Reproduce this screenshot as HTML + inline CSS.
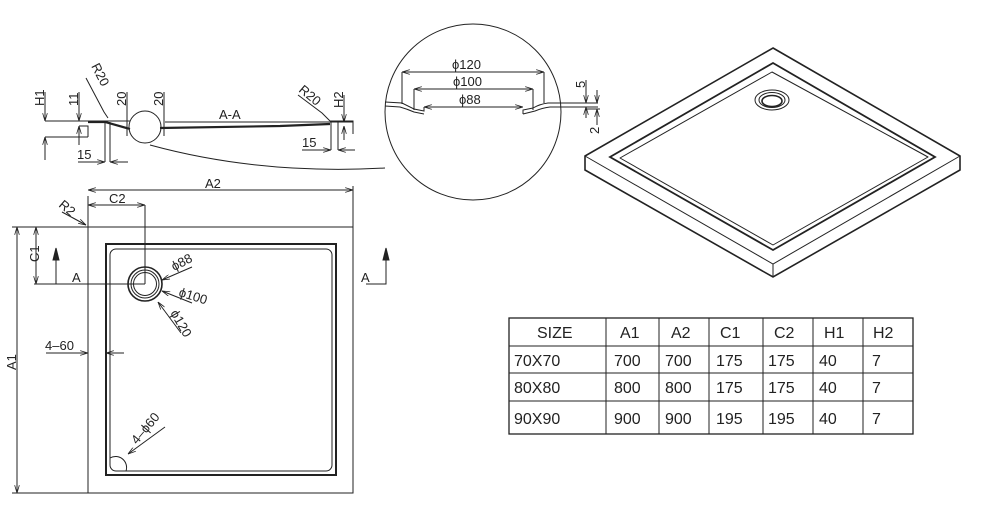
<!DOCTYPE html>
<html><head><meta charset="utf-8"><style>
html,body{margin:0;padding:0;background:#fff;}
svg{display:block;}
text{font-family:"Liberation Sans",sans-serif;fill:#222;}
</style></head><body>
<svg width="982" height="512" viewBox="0 0 982 512" xmlns="http://www.w3.org/2000/svg">
<defs>
<marker id="ar" viewBox="0 0 10 6" refX="10" refY="3" markerWidth="8" markerHeight="5" orient="auto-start-reverse"><path d="M0,0 L10,3 L0,6" fill="none" stroke="#222" stroke-width="1"/></marker>
</defs>
<g stroke="#222" fill="none" stroke-width="1">
<line x1="45" y1="121" x2="130" y2="121"/>
<line x1="45" y1="137" x2="88" y2="137"/>
<line x1="45" y1="92" x2="45" y2="121" marker-end="url(#ar)"/>
<line x1="45" y1="160" x2="45" y2="137" marker-end="url(#ar)"/>
<line x1="79" y1="92" x2="79" y2="121" marker-end="url(#ar)"/>
<line x1="79" y1="145" x2="79" y2="126" marker-end="url(#ar)"/>
<path d="M79,126 H88 V137" />
<path d="M88,122 H105 L130,129" stroke-width="2.2"/>
<line x1="105" y1="122" x2="105" y2="162"/>
<line x1="110" y1="122" x2="110" y2="162"/>
<line x1="78" y1="162" x2="105" y2="162" marker-end="url(#ar)"/>
<line x1="128" y1="162" x2="110" y2="162" marker-end="url(#ar)"/>
<path d="M86,78 L104,112 L108,118" />
<line x1="127" y1="92" x2="127" y2="136"/>
<line x1="164" y1="92" x2="164" y2="136"/>
<circle cx="145" cy="127" r="16"/>
<line x1="165" y1="122" x2="353" y2="122"/>
<path d="M160,128 L280,126 L330,124" stroke-width="2.2"/>
<path d="M150,145 Q260,175 385,168"/>
<path d="M298,95 L322,113 L330,121"/>
<path d="M330,121 H353 V134"/>
<line x1="331" y1="122" x2="331" y2="150"/>
<line x1="338" y1="122" x2="338" y2="150"/>
<line x1="344" y1="95" x2="344" y2="122" marker-end="url(#ar)"/>
<line x1="344" y1="140" x2="344" y2="126" marker-end="url(#ar)"/>
<line x1="302" y1="150" x2="331" y2="150" marker-end="url(#ar)"/>
<line x1="355" y1="150" x2="338" y2="150" marker-end="url(#ar)"/>
<circle cx="473" cy="112" r="88"/>
<line x1="402" y1="72" x2="544" y2="72" marker-start="url(#ar)" marker-end="url(#ar)"/>
<line x1="402" y1="72" x2="402" y2="104"/>
<line x1="544" y1="72" x2="544" y2="103"/>
<line x1="414" y1="89" x2="533" y2="89" marker-start="url(#ar)" marker-end="url(#ar)"/>
<line x1="414" y1="89" x2="414" y2="110"/>
<line x1="533" y1="89" x2="533" y2="110"/>
<line x1="424" y1="107" x2="523" y2="107" marker-start="url(#ar)" marker-end="url(#ar)"/>
<path d="M385,102 L402,103 Q408,106 414,109 L424,111 L424,107"/>
<path d="M385,106 L400,107 Q407,109 414,112 L424,114"/>
<path d="M523,114 L523,110 L533,108 Q540,104 548,103 L598,103"/>
<path d="M523,114 L535,111 Q542,108 550,107 L598,107"/>
<line x1="586" y1="80" x2="586" y2="103" marker-end="url(#ar)"/>
<line x1="586" y1="118" x2="586" y2="107" marker-end="url(#ar)"/>
<line x1="597" y1="90" x2="597" y2="103" marker-end="url(#ar)"/>
<line x1="597" y1="125" x2="597" y2="109" marker-end="url(#ar)"/>
<line x1="586" y1="109" x2="600" y2="109"/>
<rect x="88" y="227" width="265" height="266"/>
<rect x="106" y="244" width="230" height="231" stroke-width="2"/>
<rect x="110" y="249" width="222" height="222" rx="6"/>
<line x1="88" y1="196" x2="88" y2="227"/>
<line x1="353" y1="186" x2="353" y2="227"/>
<line x1="88" y1="190" x2="353" y2="190" marker-start="url(#ar)" marker-end="url(#ar)"/>
<line x1="88" y1="205" x2="145" y2="205" marker-start="url(#ar)" marker-end="url(#ar)"/>
<line x1="145" y1="205" x2="145" y2="284"/>
<line x1="62" y1="212" x2="86" y2="225" marker-end="url(#ar)"/>
<line x1="12" y1="227" x2="88" y2="227"/>
<line x1="12" y1="493" x2="88" y2="493"/>
<line x1="17" y1="227" x2="17" y2="493" marker-start="url(#ar)" marker-end="url(#ar)"/>
<line x1="36" y1="227" x2="36" y2="284" marker-start="url(#ar)" marker-end="url(#ar)"/>
<line x1="34" y1="284" x2="145" y2="284"/>
<line x1="56" y1="284" x2="56" y2="250"/>
<path d="M56,248 l-3,12 h6 z" fill="#222"/>
<path d="M366,284 H386 V250"/>
<path d="M386,248 l-3,12 h6 z" fill="#222"/>
<circle cx="145" cy="284" r="17" stroke-width="1.6"/>
<circle cx="145" cy="284" r="14"/>
<circle cx="145" cy="284" r="11.5"/>
<line x1="46" y1="353" x2="88" y2="353" marker-end="url(#ar)"/>
<line x1="124" y1="353" x2="106" y2="353" marker-end="url(#ar)"/>
<line x1="192" y1="267" x2="162" y2="280" marker-end="url(#ar)"/>
<line x1="192" y1="303" x2="162" y2="291" marker-end="url(#ar)"/>
<line x1="181" y1="333" x2="158" y2="302" marker-end="url(#ar)"/>
<line x1="165" y1="427" x2="128" y2="454" marker-end="url(#ar)"/>
<path d="M110,458 A11,11 0 0 1 126,471"/>
<path d="M773,48 L960,156 L960,170 L773,277 L585,170 L585,156 Z" stroke-width="1.6"/>
<path d="M585,156 L773,264 L960,156" />
<line x1="773" y1="264" x2="773" y2="277"/>
<path d="M773,63 L935,157 L773,250 L610,157 Z" stroke-width="1.8"/>
<path d="M772,72 L928,157 L773,245 L620,158 Z" stroke-linejoin="round"/>
<ellipse cx="772" cy="100" rx="17" ry="10"/>
<ellipse cx="772" cy="100" rx="13" ry="7.5"/>
<ellipse cx="772" cy="101" rx="10" ry="5.5" stroke-width="1.6"/>
<rect x="509" y="318" width="404" height="116" stroke-width="1.3"/>
<line x1="509" y1="346" x2="913" y2="346"/>
<line x1="509" y1="373" x2="913" y2="373"/>
<line x1="509" y1="401" x2="913" y2="401"/>
<line x1="606" y1="318" x2="606" y2="434"/>
<line x1="659" y1="318" x2="659" y2="434"/>
<line x1="709" y1="318" x2="709" y2="434"/>
<line x1="763" y1="318" x2="763" y2="434"/>
<line x1="813" y1="318" x2="813" y2="434"/>
<line x1="863" y1="318" x2="863" y2="434"/>
</g>
<g font-size="13">
<text transform="translate(44,106) rotate(-90)">H1</text>
<text transform="translate(78,106) rotate(-90)">11</text>
<text transform="translate(91,66) rotate(63)">R20</text>
<text transform="translate(126,106) rotate(-90)">20</text>
<text transform="translate(163,106) rotate(-90)">20</text>
<text x="219" y="119">A-A</text>
<text x="77" y="159">15</text>
<text transform="translate(298,91) rotate(40)">R20</text>
<text transform="translate(343,108) rotate(-90)">H2</text>
<text x="302" y="147">15</text>
<text x="452" y="69">ϕ120</text>
<text x="453" y="86">ϕ100</text>
<text x="459" y="104">ϕ88</text>
<text transform="translate(585,88) rotate(-90)">5</text>
<text transform="translate(599,134) rotate(-90)">2</text>
<text x="205" y="188">A2</text>
<text x="109" y="203">C2</text>
<text transform="translate(58,206) rotate(40)">R2</text>
<text transform="translate(39,262) rotate(-90)">C1</text>
<text transform="translate(16,370) rotate(-90)">A1</text>
<text x="72" y="282">A</text>
<text x="361" y="282">A</text>
<text x="45" y="350">4–60</text>
<text transform="translate(174,271) rotate(-27)">ϕ88</text>
<text transform="translate(178,296) rotate(17)">ϕ100</text>
<text transform="translate(170,313) rotate(60)">ϕ120</text>
<text transform="translate(137,445) rotate(-50)">4–ϕ60</text>
</g>
<g font-size="16">
<text x="537" y="338">SIZE</text>
<text x="620" y="338">A1</text>
<text x="671" y="338">A2</text>
<text x="720" y="338">C1</text>
<text x="774" y="338">C2</text>
<text x="824" y="338">H1</text>
<text x="873" y="338">H2</text>
<text x="514" y="366">70X70</text><text x="614" y="366">700</text><text x="665" y="366">700</text><text x="716" y="366">175</text><text x="768" y="366">175</text><text x="819" y="366">40</text><text x="872" y="366">7</text>
<text x="514" y="393">80X80</text><text x="614" y="393">800</text><text x="665" y="393">800</text><text x="716" y="393">175</text><text x="768" y="393">175</text><text x="819" y="393">40</text><text x="872" y="393">7</text>
<text x="514" y="424">90X90</text><text x="614" y="424">900</text><text x="665" y="424">900</text><text x="716" y="424">195</text><text x="768" y="424">195</text><text x="819" y="424">40</text><text x="872" y="424">7</text>
</g>
</svg>
</body></html>
